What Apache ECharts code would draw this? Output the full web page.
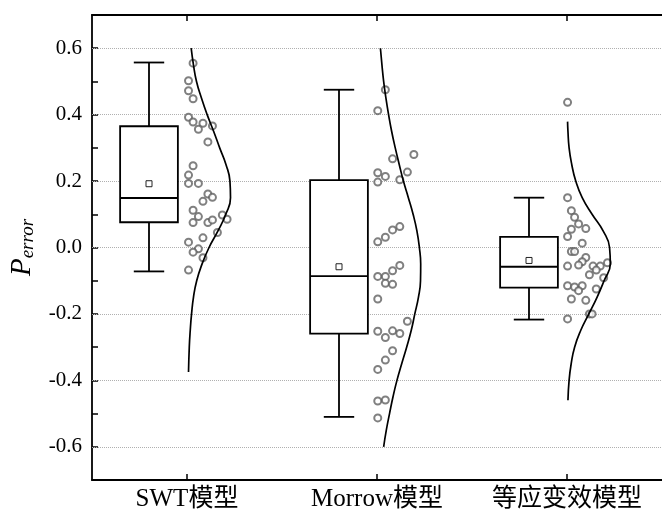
<!DOCTYPE html>
<html>
<head>
<meta charset="utf-8">
<script src="https://cdn.jsdelivr.net/npm/echarts@6/dist/echarts.min.js"></script>
<style>
  html, body { margin: 0; padding: 0; background: #fff; }
  #chart { width: 662px; height: 515px; }
</style>
</head>
<body>
<div id="chart"></div>
<script>
// 類別
const categories = ['SWT模型', 'Morrow模型', '等应变效模型'];

// 箱形圖統計值
const boxMin    = [-0.072, -0.510, -0.217];
const boxQ1     = [0.076, -0.259, -0.121];
const boxMedian = [0.149, -0.086, -0.058];
const boxQ3     = [0.365, 0.203, 0.032];
const boxMax    = [0.557, 0.475, 0.150];
const boxMean   = [0.192, -0.058, -0.039];

// 散點：數值與水平抖動 (相對類別中心)
const swtValues = [0.555, 0.502, 0.472, 0.448, 0.392, 0.378, 0.374, 0.356, 0.366, 0.318, 0.246, 0.218, 0.193, 0.193, 0.161, 0.151,
  0.139, 0.112, 0.093, 0.075, 0.075, 0.083, 0.098, 0.085, 0.045, 0.016, 0.029, -0.004, -0.014, -0.031, -0.068];
const swtJitter = [0.032, 0.008, 0.008, 0.032, 0.008, 0.032, 0.084, 0.060, 0.134, 0.110, 0.032, 0.008, 0.008, 0.060, 0.110, 0.134,
  0.084, 0.032, 0.060, 0.032, 0.110, 0.134, 0.186, 0.211, 0.160, 0.008, 0.084, 0.060, 0.032, 0.084, 0.008];

const morrowValues = [0.475, 0.412, 0.280, 0.267, 0.227, 0.225, 0.214, 0.197, 0.204, 0.063, 0.053, 0.031, 0.017, -0.054, -0.070, -0.087,
  -0.087, -0.108, -0.111, -0.155, -0.222, -0.252, -0.251, -0.259, -0.271, -0.311, -0.339, -0.367, -0.462, -0.459, -0.513];
const morrowJitter = [0.044, 0.004, 0.194, 0.082, 0.160, 0.004, 0.044, 0.004, 0.120, 0.120, 0.082, 0.044, 0.004, 0.120, 0.082, 0.044,
  0.004, 0.044, 0.082, 0.004, 0.160, 0.004, 0.082, 0.120, 0.044, 0.082, 0.044, 0.004, 0.004, 0.044, 0.004];

const strainValues = [0.437, 0.150, 0.111, 0.091, 0.071, 0.057, 0.055, 0.033, 0.013, -0.012, -0.012, -0.030, -0.043, -0.053, -0.056, -0.056,
  -0.056, -0.046, -0.068, -0.082, -0.091, -0.115, -0.119, -0.115, -0.130, -0.125, -0.155, -0.159, -0.200, -0.200, -0.215];
const strainJitter = [0.003, 0.003, 0.023, 0.040, 0.061, 0.099, 0.023, 0.003, 0.080, 0.023, 0.040, 0.099, 0.080, 0.061, 0.003, 0.137,
  0.175, 0.213, 0.154, 0.118, 0.193, 0.003, 0.040, 0.080, 0.061, 0.154, 0.023, 0.099, 0.118, 0.132, 0.003];

// 常態分佈曲線：[數值, 寬度(相對類別中心)]
const swtCurve = [[0.6, 0.022], [0.55, 0.034], [0.5, 0.050], [0.45, 0.076], [0.4, 0.106], [0.35, 0.140], [0.3, 0.172],
  [0.25, 0.205], [0.2, 0.226], [0.15, 0.229], [0.1, 0.204], [0.05, 0.163], [0.0, 0.116], [-0.05, 0.079],
  [-0.1, 0.051], [-0.15, 0.034], [-0.2, 0.024], [-0.25, 0.017], [-0.3, 0.012], [-0.375, 0.008]];
const morrowCurve = [[0.6, 0.018], [0.55, 0.026], [0.5, 0.035], [0.45, 0.047], [0.4, 0.061], [0.35, 0.077], [0.3, 0.096],
  [0.25, 0.117], [0.2, 0.139], [0.15, 0.165], [0.1, 0.190], [0.05, 0.210], [0.0, 0.223], [-0.05, 0.230],
  [-0.1, 0.229], [-0.15, 0.218], [-0.2, 0.199], [-0.25, 0.180], [-0.3, 0.156], [-0.35, 0.130], [-0.4, 0.105],
  [-0.45, 0.084], [-0.5, 0.066], [-0.55, 0.049], [-0.6, 0.035]];
const strainCurve = [[0.379, 0.003], [0.35, 0.005], [0.3, 0.011], [0.25, 0.025], [0.2, 0.046], [0.15, 0.080], [0.1, 0.132],
  [0.05, 0.190], [0.0, 0.224], [-0.05, 0.228], [-0.1, 0.195], [-0.15, 0.158], [-0.2, 0.115], [-0.25, 0.072],
  [-0.3, 0.040], [-0.35, 0.022], [-0.4, 0.011], [-0.46, 0.005]];

// 格線位置
const yGridValues = [-0.6, -0.4, -0.2, 0.0, 0.2, 0.4, 0.6];

const FONT = "'Liberation Serif', 'Times New Roman', 'Noto Sans CJK SC', serif";
const BOX_OFFSET = -0.2;
const BOX_HALF = 0.152;
const CAP_HALF = 0.08;

const chart = echarts.init(document.getElementById('chart'));

function renderBox(params, api) {
    const x = api.value(0);
    const top = api.coord([x, api.value(5)]);
    const bot = api.coord([x, api.value(1)]);
    const q3 = api.coord([x - BOX_HALF, api.value(4)]);
    const q1 = api.coord([x + BOX_HALF, api.value(2)]);
    const med = api.coord([x, api.value(3)]);
    const mean = api.coord([x, api.value(6)]);
    const capL = api.coord([x - CAP_HALF, 0])[0];
    const capR = api.coord([x + CAP_HALF, 0])[0];
    const st = { stroke: '#000', lineWidth: 1.8, fill: null };
    return {
        type: 'group',
        children: [
            { type: 'line', shape: { x1: top[0], y1: top[1], x2: top[0], y2: q3[1] }, style: st },
            { type: 'line', shape: { x1: bot[0], y1: q1[1], x2: bot[0], y2: bot[1] }, style: st },
            { type: 'line', shape: { x1: capL, y1: top[1], x2: capR, y2: top[1] }, style: st },
            { type: 'line', shape: { x1: capL, y1: bot[1], x2: capR, y2: bot[1] }, style: st },
            { type: 'rect', shape: { x: q3[0], y: q3[1], width: q1[0] - q3[0], height: q1[1] - q3[1] },
              style: { stroke: '#000', lineWidth: 1.8, fill: '#fff' } },
            { type: 'line', shape: { x1: q3[0], y1: med[1], x2: q1[0], y2: med[1] }, style: st },
            { type: 'rect', shape: { x: mean[0] - 3, y: mean[1] - 3, width: 6, height: 6 },
              style: { stroke: '#222', lineWidth: 1, fill: '#fff' } }
        ]
    };
}

const boxData = categories.map((c, i) => [i + 0.5 + BOX_OFFSET, boxMin[i], boxQ1[i], boxMedian[i], boxQ3[i], boxMax[i], boxMean[i]]);

function pointData(values, jitter, idx) {
    return values.map((v, k) => [idx + 0.5 + jitter[k], v]);
}
function curveData(curve, idx) {
    return curve.map(p => [idx + 0.5 + p[1], p[0]]);
}

const groups = [
    { values: swtValues, jitter: swtJitter, curve: swtCurve },
    { values: morrowValues, jitter: morrowJitter, curve: morrowCurve },
    { values: strainValues, jitter: strainJitter, curve: strainCurve }
];

const series = [
    {
        type: 'custom',
        xAxisIndex: 1,
        renderItem: renderBox,
        encode: { x: 0, y: [1, 2, 3, 4, 5, 6] },
        data: boxData,
        z: 3,
        markLine: {
            silent: true,
            symbol: 'none',
            label: { show: false },
            lineStyle: { color: '#b0b0b0', type: 'dotted', width: 1 },
            data: yGridValues.map(v => ({ yAxis: v })),
            z: 1
        }
    }
];

groups.forEach((g, i) => {
    series.push({
        type: 'scatter',
        xAxisIndex: 1,
        symbol: 'emptyCircle',
        symbolSize: 7,
        itemStyle: { color: '#606060', borderWidth: 0.8 },
        data: pointData(g.values, g.jitter, i),
        z: 4
    });
    series.push({
        type: 'line',
        xAxisIndex: 1,
        data: curveData(g.curve, i),
        smooth: 0.5,
        showSymbol: false,
        symbol: 'none',
        lineStyle: { color: '#000', width: 1.7 },
        z: 5
    });
});

const catAxisBase = {
    type: 'category',
    data: categories,
    axisLine: { onZero: false, lineStyle: { color: '#000', width: 1.8 } },
    axisTick: { show: true, interval: 0, inside: true, alignWithLabel: true, length: 6, lineStyle: { color: '#000', width: 1.5 } },
    splitLine: { show: false }
};

const option = {
    animation: false,
    backgroundColor: '#fff',
    grid: { left: 92, top: 15, width: 579, height: 465 },
    xAxis: [
        Object.assign({}, catAxisBase, {
            position: 'bottom',
            axisLabel: { interval: 0, color: '#000', fontFamily: FONT, fontSize: 25, margin: 7 }
        }),
        {
            type: 'value',
            min: 0,
            max: 3,
            show: false
        },
        Object.assign({}, catAxisBase, {
            position: 'top',
            axisLabel: { show: false }
        })
    ],
    yAxis: {
        type: 'value',
        min: -0.7,
        max: 0.7,
        interval: 0.1,
        name: '{p|P}{s|error}',
        nameLocation: 'middle',
        nameGap: 52,
        nameRotate: 90,
        nameTextStyle: {
            rich: {
                p: { fontFamily: FONT, fontStyle: 'italic', fontSize: 29, color: '#000', lineHeight: 30 },
                s: { fontFamily: FONT, fontStyle: 'italic', fontSize: 19, color: '#000', lineHeight: 19, verticalAlign: 'bottom', padding: [8, 0, 0, 0] }
            }
        },
        axisLine: { show: true, onZero: false, lineStyle: { color: '#000', width: 1.8 } },
        axisTick: { inside: true, length: 6, lineStyle: { color: '#000', width: 1.5 } },
        axisLabel: {
            color: '#000',
            fontFamily: FONT,
            fontSize: 21,
            margin: 10,
            formatter: v => (Math.round(v * 10) % 2 === 0 ? v.toFixed(1) : '')
        },
        splitLine: { show: false }
    },
    series: series
};

chart.setOption(option);
</script>
</body>
</html>
